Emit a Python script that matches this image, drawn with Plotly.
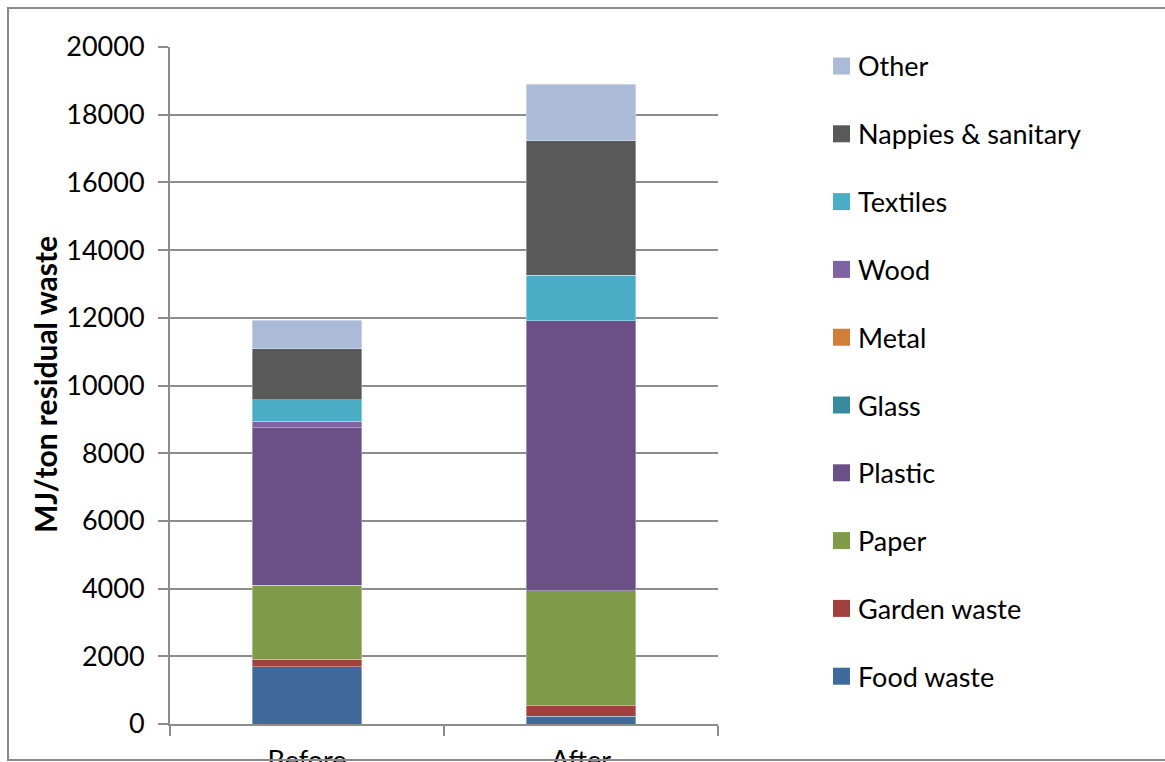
import plotly.graph_objects as go

# Energy content of residual waste, by fraction, before and after
categories = ["Before", "After"]
fractions = ["Food waste", "Garden waste", "Paper", "Plastic", "Glass",
             "Metal", "Wood", "Textiles", "Nappies & sanitary", "Other"]

food_waste = [1693, 236]
garden_waste = [227, 305]
paper = [2186, 3397]
plastic = [4647, 7976]
glass = [0, 0]
metal = [0, 0]
wood = [198, 0]
textiles = [621, 1350]
nappies = [1515, 3968]
other = [848, 1675]

series = [food_waste, garden_waste, paper, plastic, glass,
          metal, wood, textiles, nappies, other]
colors = ["#40699C", "#A0413F", "#7F9A48", "#6A5087", "#3A8A9F",
          "#D07F3A", "#7F62A2", "#4BACC6", "#595959", "#AABAD7"]

y_ticks = list(range(0, 20001, 2000))
y_tick_text = [str(v) for v in y_ticks]

FONT = "Lato, 'Open Sans', sans-serif"
GRID = "#8C8C8C"
FS = 27

fig = go.Figure()
for name, vals, col in zip(fractions, series, colors):
    fig.add_trace(go.Bar(
        x=categories, y=vals, name=name,
        marker=dict(color=col, line=dict(color="rgba(255,255,255,0.45)", width=0.8)),
        showlegend=False,
    ))

# page geometry (pixels)
W, H = 1165, 762
L, R, T, B = 170, 718, 47, 724
pw, ph = R - L, B - T

def px(xp):
    return (xp - L) / pw

def py(yp):
    return (B - yp) / ph

shapes = [dict(
    type="rect", xref="paper", yref="paper",
    x0=px(8), x1=px(1200), y0=py(760), y1=py(8),
    line=dict(color="#8A8A8A", width=2), fillcolor="rgba(0,0,0,0)", layer="above",
)]
annotations = [dict(
    text="<b>MJ/ton residual waste</b>", xref="paper", yref="paper",
    x=px(45), y=py(385), textangle=-90, showarrow=False,
    xanchor="center", yanchor="middle",
    font=dict(family=FONT, size=30, color="black"),
)]

# legend: top entry is the last stacked series
step = 67.8
for i, (name, col) in enumerate(zip(reversed(fractions), reversed(colors))):
    cy = 66 + i * step
    shapes.append(dict(
        type="rect", xref="paper", yref="paper",
        x0=px(833), x1=px(850), y0=py(cy + 8.5), y1=py(cy - 8.5),
        fillcolor=col, line=dict(width=0),
    ))
    annotations.append(dict(
        text=name, xref="paper", yref="paper", x=px(856), y=py(cy),
        xanchor="left", yanchor="middle", showarrow=False,
        font=dict(family=FONT, size=FS, color="black"),
    ))

fig.update_layout(
    width=W, height=H,
    margin=dict(l=L, r=W - R, t=T, b=H - B, pad=0),
    barmode="stack", bargap=0.6,
    paper_bgcolor="white", plot_bgcolor="white",
    font=dict(family=FONT, size=FS, color="black"),
    showlegend=False,
    xaxis=dict(
        type="category", showgrid=False, showline=True, linecolor=GRID, linewidth=2,
        ticks="outside", tickson="boundaries", ticklen=10, tickwidth=2, tickcolor=GRID,
        tickfont=dict(family=FONT, size=FS, color="black"), ticklabelstandoff=12,
        automargin=False,
    ),
    yaxis=dict(
        range=[0, 20000], tickvals=y_ticks, ticktext=y_tick_text,
        showgrid=True, gridcolor=GRID, gridwidth=1.5,
        showline=True, linecolor=GRID, linewidth=2,
        ticks="outside", ticklen=10, tickwidth=2, tickcolor=GRID,
        tickfont=dict(family=FONT, size=FS, color="black"), ticklabelstandoff=8,
        zeroline=False, automargin=False,
    ),
    shapes=shapes,
    annotations=annotations,
)

fig.write_html("out.html")
